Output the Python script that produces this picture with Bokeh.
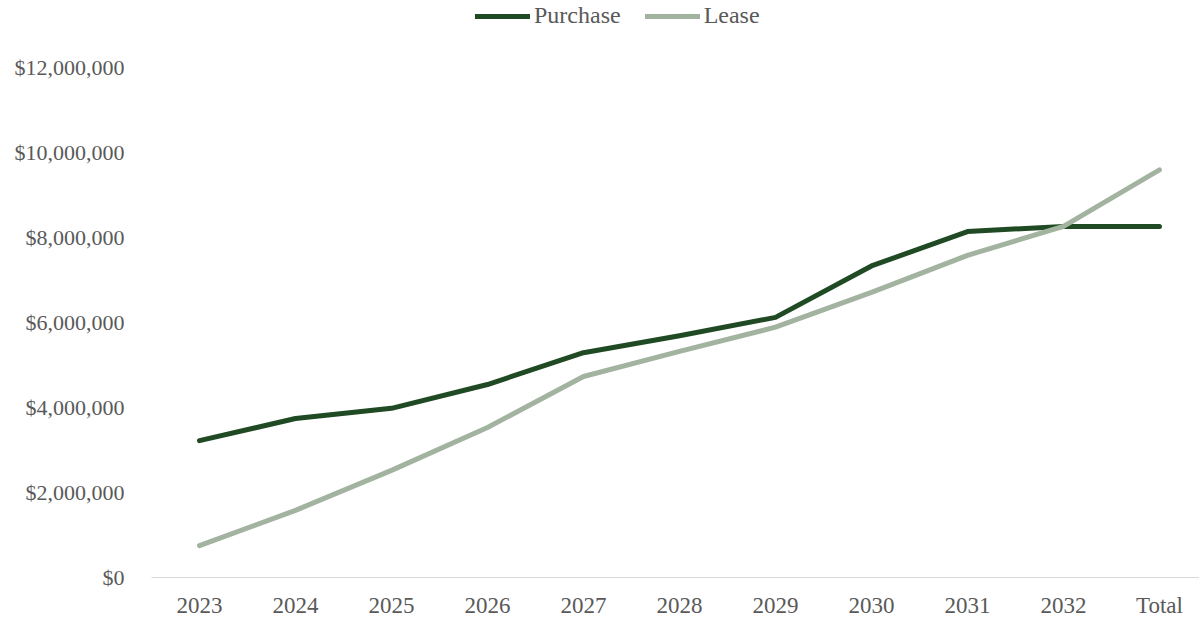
from bokeh.plotting import figure
from bokeh.models import Range1d, FixedTicker, NumeralTickFormatter, Legend, LegendItem
from bokeh.embed import file_html
from bokeh.resources import INLINE

categories = ["2023", "2024", "2025", "2026", "2027", "2028", "2029", "2030", "2031", "2032", "Total"]
purchase = [3220000, 3740000, 3980000, 4540000, 5290000, 5690000, 6120000, 7330000, 8140000, 8260000, 8260000]
lease = [750000, 1580000, 2520000, 3530000, 4730000, 5320000, 5890000, 6710000, 7580000, 8260000, 9590000]
y_ticks = [0, 2000000, 4000000, 6000000, 8000000, 10000000, 12000000]

FONT = "Liberation Serif"
TXT = "#595959"

x = list(range(len(categories)))

p = figure(frame_width=1048, frame_height=577, output_backend="svg", toolbar_location=None,
           x_range=Range1d(-0.5, 10.417), y_range=Range1d(0, 13576000),
           min_border_left=151, min_border_right=0, min_border_top=0, min_border_bottom=41)
p.outline_line_color = None
p.xgrid.visible = False
p.ygrid.visible = False

r1 = p.line(x, purchase, line_color="#1F4A23", line_width=5, line_cap="round", line_join="round")
r2 = p.line(x, lease, line_color="#A2B3A0", line_width=5, line_cap="round", line_join="round")

p.xaxis.ticker = FixedTicker(ticks=x)
p.xaxis.major_label_overrides = {i: c for i, c in enumerate(categories)}
p.xaxis.axis_line_color = "#D9D9D9"
p.xaxis.axis_line_width = 1
p.xaxis.major_tick_line_color = None
p.xaxis.minor_tick_line_color = None
p.xaxis.major_label_standoff = 9
p.xaxis.major_label_text_font = FONT
p.xaxis.major_label_text_font_size = "23px"
p.xaxis.major_label_text_color = TXT

p.yaxis.ticker = FixedTicker(ticks=y_ticks)
p.yaxis.formatter = NumeralTickFormatter(format="$0,0")
p.yaxis.axis_line_color = None
p.yaxis.major_tick_line_color = None
p.yaxis.minor_tick_line_color = None
p.yaxis.major_label_standoff = 21
p.yaxis.major_label_text_font = FONT
p.yaxis.major_label_text_font_size = "22px"
p.yaxis.major_label_text_color = TXT

legend = Legend(items=[LegendItem(label="Purchase", renderers=[r1]),
                       LegendItem(label="Lease", renderers=[r2])],
                location=(324, 548), orientation="horizontal",
                glyph_width=55, glyph_height=24, label_standoff=4, spacing=24,
                padding=0, margin=0, border_line_color=None, background_fill_alpha=0,
                label_text_font=FONT, label_text_font_size="24px", label_text_color=TXT,
                label_height=24)
p.add_layout(legend, "center")

open("out.html", "w").write(file_html(p, INLINE))
